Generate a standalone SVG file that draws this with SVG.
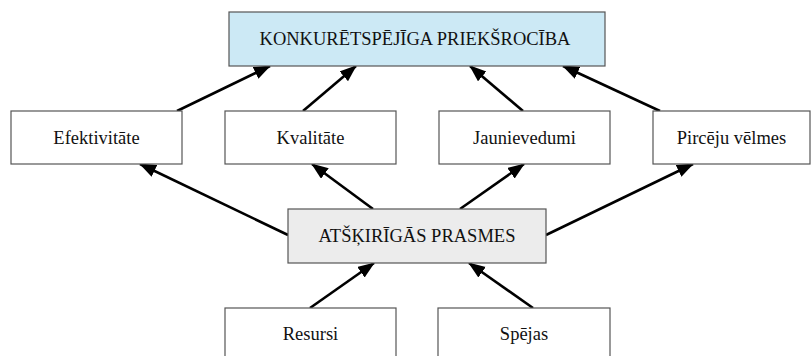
<svg xmlns="http://www.w3.org/2000/svg" width="811" height="356" viewBox="0 0 811 356">
<defs>
<style>
.box{fill:#ffffff;stroke:#555555;stroke-width:1.2}
.blue{fill:#cce9f5}
.gray{fill:#ececec}
.t{font-family:"Liberation Serif","Times New Roman",serif;font-size:18.5px;fill:#111111;text-anchor:middle}
.c{stroke:#000000;stroke-width:2.6;fill:none;marker-end:url(#ah)}
</style>
<marker id="ah" markerUnits="userSpaceOnUse" markerWidth="18" markerHeight="14" refX="16" refY="6.5" orient="auto">
<path d="M0,0 L17,6.5 L0,13 Z" fill="#000000"/>
</marker>
</defs>
<rect width="811" height="356" fill="#ffffff"/>
<g id="connectors">
<line class="c" x1="177" y1="111" x2="270" y2="66"/>
<line class="c" x1="303" y1="111" x2="356" y2="66"/>
<line class="c" x1="523" y1="111" x2="470" y2="66"/>
<line class="c" x1="660" y1="111" x2="563" y2="66"/>
<line class="c" x1="288" y1="235" x2="140" y2="164"/>
<line class="c" x1="373" y1="209" x2="312" y2="164"/>
<line class="c" x1="460" y1="209" x2="524" y2="164"/>
<line class="c" x1="546" y1="235" x2="693" y2="164"/>
<line class="c" x1="310" y1="308" x2="374" y2="263"/>
<line class="c" x1="533" y1="308" x2="469" y2="263"/>
</g>
<g id="node-konkuretspejiga">
<rect class="box blue" x="229" y="12" width="376" height="54"/>
<text class="t" x="415" y="45">KONKURĒTSPĒJĪGA PRIEKŠROCĪBA</text>
</g>
<g id="node-efektivitate">
<rect class="box" x="11" y="111" width="171" height="53"/>
<text class="t" x="96.5" y="143.5">Efektivitāte</text>
</g>
<g id="node-kvalitate">
<rect class="box" x="225" y="111" width="171" height="53"/>
<text class="t" x="310.5" y="143.5">Kvalitāte</text>
</g>
<g id="node-jaunievedumi">
<rect class="box" x="439" y="111" width="171" height="53"/>
<text class="t" x="524.5" y="143.5">Jaunievedumi</text>
</g>
<g id="node-pirceju">
<rect class="box" x="653" y="111" width="157" height="53"/>
<text class="t" x="731.5" y="143.5">Pircēju vēlmes</text>
</g>
<g id="node-atskirigas">
<rect class="box gray" x="288" y="209" width="258" height="54"/>
<text class="t" x="417" y="242">ATŠĶIRĪGĀS PRASMES</text>
</g>
<g id="node-resursi">
<rect class="box" x="225" y="308" width="171" height="56"/>
<text class="t" x="310.5" y="340">Resursi</text>
</g>
<g id="node-spejas">
<rect class="box" x="438" y="308" width="172" height="56"/>
<text class="t" x="524" y="340">Spējas</text>
</g>
</svg>
